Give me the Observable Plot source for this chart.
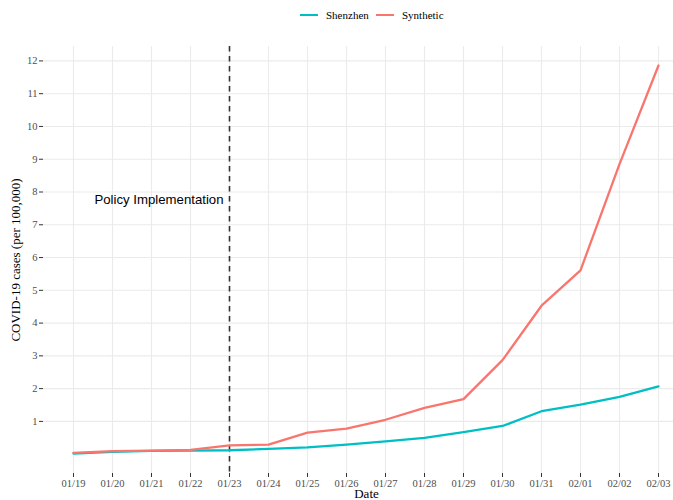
<!DOCTYPE html>
<html>
<head>
<meta charset="utf-8">
<script src="https://cdn.jsdelivr.net/npm/d3@7"></script>
<script src="https://cdn.jsdelivr.net/npm/@observablehq/plot@0.6"></script>
<style>
  html, body { margin: 0; padding: 0; background: #fff; }
  #legend { position: relative; height: 30px; width: 673px; font-family: "Liberation Serif", "DejaVu Serif", serif; font-size: 11px; color: #000; }
  .item { position: absolute; top: 8px; display: flex; align-items: center; height: 14px; }
  .sw { width: 18px; height: 2.4px; margin-right: 8px; }
  #chart svg text { font-family: "Liberation Serif", "DejaVu Serif", serif; }
  #chart svg text.sans, #chart svg g.sans text { font-family: "Liberation Sans", Arial, sans-serif; }
</style>
</head>
<body>
<div id="legend"></div>
<div id="chart"></div>
<script>
const dates = ["01/19","01/20","01/21","01/22","01/23","01/24","01/25","01/26","01/27","01/28","01/29","01/30","01/31","02/01","02/02","02/03"];
const shenzhen = [0.02, 0.07, 0.10, 0.11, 0.12, 0.16, 0.21, 0.29, 0.39, 0.50, 0.67, 0.86, 1.31, 1.51, 1.75, 2.07];
const synthetic = [0.04, 0.09, 0.11, 0.13, 0.27, 0.29, 0.66, 0.78, 1.05, 1.41, 1.68, 2.87, 4.53, 5.61, 8.85, 11.86];
const seriesNames = ["Shenzhen", "Synthetic"];
const seriesColors = ["#00BFC4", "#F8766D"];
const yTicks = [1,2,3,4,5,6,7,8,9,10,11,12];
const policyDate = "01/23";
const annotation = [{date: "01/23", value: 7.75, label: "Policy Implementation"}];

const rows = [];
dates.forEach((d, i) => {
  rows.push({date: d, value: shenzhen[i], series: seriesNames[0]});
});
dates.forEach((d, i) => {
  rows.push({date: d, value: synthetic[i], series: seriesNames[1]});
});

// legend
const legend = document.getElementById("legend");
const legendX = [300, 376];
seriesNames.forEach((name, i) => {
  const it = document.createElement("div");
  it.className = "item";
  it.style.left = legendX[i] + "px";
  const sw = document.createElement("div");
  sw.className = "sw";
  sw.style.background = seriesColors[i];
  const tx = document.createElement("span");
  tx.textContent = name;
  it.appendChild(sw); it.appendChild(tx);
  legend.appendChild(it);
});

const W = 673, H = 470;
const plot = Plot.plot({
  width: W,
  height: H,
  marginLeft: 43,
  marginRight: 0,
  marginTop: 16,
  marginBottom: 27,
  style: {background: "#fff", overflow: "visible"},
  x: {type: "point", domain: dates, range: [72, 659], padding: 0},
  y: {domain: [-0.59, 12.44]},
  color: {domain: seriesNames, range: seriesColors},
  marks: [
    Plot.ruleY(yTicks, {stroke: "#ebebeb", strokeWidth: 1.1}),
    Plot.ruleX(dates, {x: d => d, stroke: "#ebebeb", strokeWidth: 1.1}),
    Plot.axisY(yTicks, {tickSize: 4, tickPadding: 2, fontSize: 10.5, fill: "#4d4d4d", stroke: "#333", label: null}),
    Plot.axisX(dates, {tickSize: 4, tickPadding: 2, fontSize: 10.5, fill: "#4d4d4d", stroke: "#333", label: null}),
    Plot.ruleX([policyDate], {x: d => d, stroke: "#333", strokeWidth: 1.6, strokeDasharray: "5.5,4.5"}),
    Plot.line(rows, {x: "date", y: "value", z: "series", stroke: "series", strokeWidth: 2.3}),
    Plot.text(annotation, {x: "date", y: "value", text: "label", textAnchor: "end", dx: -6, fontSize: 13.2, fill: "#000", className: "sans"}),
    Plot.text(["Date"], {frameAnchor: "bottom", text: d => d, dx: 8, dy: 24, fontSize: 13, fill: "#000"}),
    Plot.text(["COVID-19 cases (per 100,000)"], {frameAnchor: "left", text: d => d, textAnchor: "middle", rotate: -90, dx: -28, fontSize: 13, fill: "#000"})
  ]
});
document.getElementById("chart").appendChild(plot);
</script>
</body>
</html>
